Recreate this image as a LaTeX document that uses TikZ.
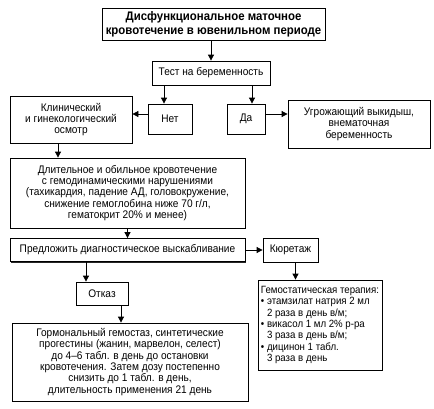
\documentclass[tikz,border=0pt]{standalone}
\usepackage{fontspec}
\setmainfont{Liberation Sans}[FakeStretch=0.92]
\usepackage{tikz}
\usetikzlibrary{arrows.meta,shadows}

\begin{document}
\begin{tikzpicture}[x=1pt, y=-1pt, font=\fontsize{11}{11.3}\selectfont,
  box/.style={draw, line width=0.8pt, fill=white, inner sep=0pt, align=center,
    drop shadow={shadow xshift=1.2pt, shadow yshift=-1.2pt, opacity=1, fill=black!85}},
  arr/.style={line width=0.8pt, -{Triangle[length=6pt, width=6pt]}}]

\useasboundingbox (0,0) rectangle (434,408);

% ---- Top: title and pregnancy test ----
\node[box, minimum width=223, minimum height=32,
      font=\fontsize{12.4}{14}\selectfont\bfseries] (title) at (213.5,24)
  {Дисфункциональное маточное\\кровотечение в ювенильном периоде};
\node[box, minimum width=118, minimum height=24] (test) at (211,73) {Тест на беременность};

% ---- Test result row ----
\node[box, minimum width=44, minimum height=30] (net) at (170,119) {Нет};
\node[box, minimum width=38, minimum height=30] (da) at (246,119) {Да};
\node[box, minimum width=122, minimum height=47] (klin) at (71,119.5)
  {Клинический\\и гинекологический\\осмотр};
\node[box, minimum width=142, minimum height=48] (ugr) at (359,124)
  {Угрожающий выкидыш,\\внематочная\\беременность};

% ---- Heavy bleeding and curettage ----
\node[box, minimum width=235, minimum height=70] (dlit) at (127.5,193)
  {Длительное и обильное кровотечение\\с гемодинамическими нарушениями\\(тахикардия, падение АД, головокружение,\\снижение гемоглобина ниже 70 г/л,\\гематокрит 20\% и менее)};
\node[box, minimum width=235, minimum height=23] (predl) at (127.5,250)
  {Предложить диагностическое выскабливание};
\node[box, minimum width=55, minimum height=24] (kur) at (290.5,250) {Кюретаж};

% ---- Refusal branch / therapy ----
\node[box, minimum width=52, minimum height=23] (otkaz) at (102,293.5) {Отказ};
\node[box, minimum width=236, minimum height=78] (horm) at (130,362)
  {Гормональный гемостаз, синтетические\\прогестины (жанин, марвелон, селест)\\до 4--6 табл. в день до остановки\\кровотечения. Затем дозу постепенно\\снизить до 1 табл. в день,\\длительность применения 21 день};
\node[box, minimum width=114, minimum height=90, align=left, inner xsep=3pt,
      font=\fontsize{10.5}{11.3}\selectfont] (gem) at (320,325)
  {Гемостатическая терапия:\\• этамзилат натрия 2 мл\\\phantom{• }2 раза в день в/м;\\• викасол 1 мл 2\% р-ра\\\phantom{• }3 раза в день в/м;\\• дицинон 1 табл.\\\phantom{• }3 раза в день};

% ---- Connectors ----
\draw[arr] (test.north |- title.south) -- (test.north);
\draw[arr] ([xshift=-6pt]net.north |- test.south) -- ([xshift=-6pt]net.north);
\draw[arr] ([xshift=6pt]da.north |- test.south) -- ([xshift=6pt]da.north);
\draw[arr] ([yshift=5pt]net.west) -- ([yshift=5pt]net.west -| klin.east);
\draw[arr] ([yshift=5pt]da.east) -- ([yshift=5pt]da.east -| ugr.west);
\draw[arr] ([xshift=-13pt]klin.south) -- ([xshift=-13pt]klin.south |- dlit.north);
\draw[arr] (dlit.south) -- (predl.north);
\draw[arr] (predl.east) -- (kur.west);
\draw[arr] ([xshift=-16pt]otkaz.north |- predl.south) -- ([xshift=-16pt]otkaz.north);
\draw[arr] ([xshift=19pt]otkaz.south) -- ([xshift=19pt]otkaz.south |- horm.north);
\draw[arr] ([xshift=5pt]kur.south) -- ([xshift=5pt]kur.south |- gem.north);

\end{tikzpicture}
\end{document}
